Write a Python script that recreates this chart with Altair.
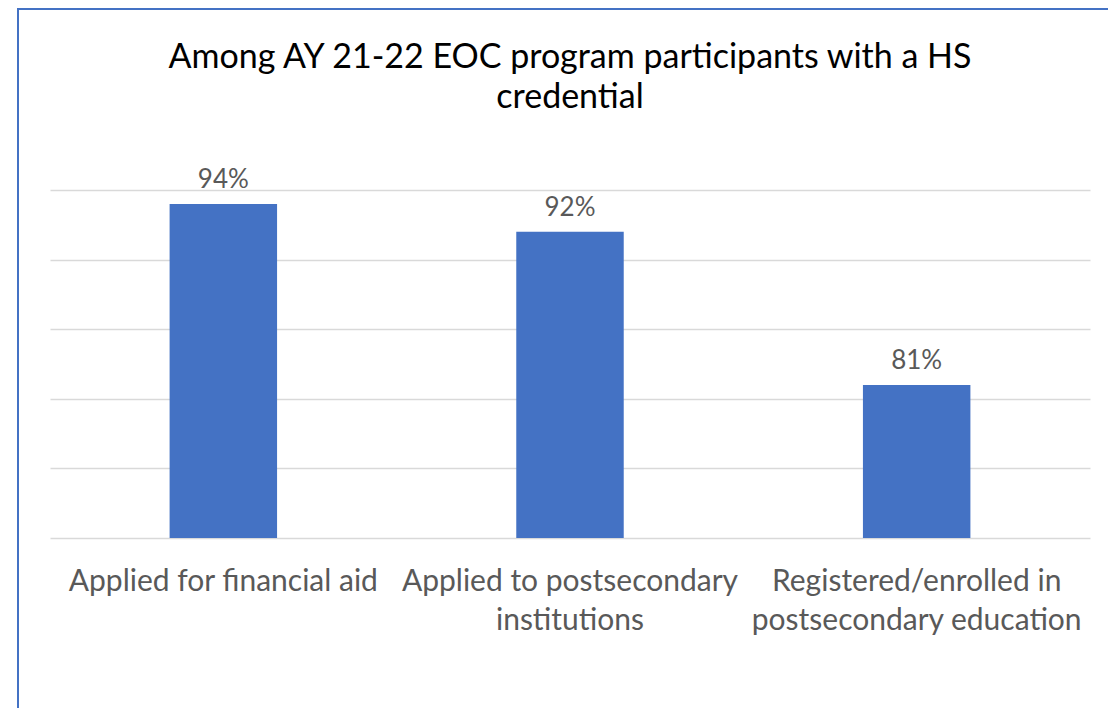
import altair as alt
import pandas as pd

categories = [
    "Applied for financial aid",
    "Applied to postsecondary institutions",
    "Registered/enrolled in postsecondary education",
]
values = [94, 92, 81]
value_labels = ["94%", "92%", "81%"]
label_lines = [
    ["Applied for financial aid"],
    ["Applied to postsecondary", "institutions"],
    ["Registered/enrolled in", "postsecondary education"],
]
title_lines = ["Among AY 21-22 EOC program participants with a HS", "credential"]
y_ticks = [70, 75, 80, 85, 90, 95]

FONT = "Lato"
BLUE = "#4472C4"
GREY_TEXT = "#595959"

df = pd.DataFrame({"category": categories, "value": values, "label": value_labels})

# multi-line axis labels
expr = "[]"
for cat, lines in reversed(list(zip(categories, label_lines))):
    arr = "[" + ",".join("'" + l + "'" for l in lines) + "]"
    expr = f"datum.label == '{cat}' ? {arr} : ({expr})"

x_enc = alt.X(
    "category:N",
    sort=categories,
    scale=alt.Scale(paddingInner=0.69, paddingOuter=0.345),
    axis=alt.Axis(
        title=None, labelAngle=0, ticks=False, domain=False,
        labelFont=FONT, labelFontSize=30, labelColor=GREY_TEXT,
        labelPadding=28, labelLineHeight=39, labelLimit=0,
        labelExpr=expr, grid=False,
    ),
)
y_enc = alt.Y(
    "value:Q",
    scale=alt.Scale(domain=[y_ticks[0], y_ticks[-1]], nice=False, zero=False),
    axis=alt.Axis(
        title=None, labels=False, ticks=False, domain=False, grid=True,
        values=y_ticks, gridColor="#D9D9D9", gridWidth=1.5,
    ),
)

base = alt.Chart(df)
bars = base.mark_bar(color=BLUE).encode(x=x_enc, y=y_enc, y2=alt.datum(y_ticks[0]))
texts = base.mark_text(
    dy=-24, baseline="middle", font=FONT, fontSize=26, color=GREY_TEXT
).encode(x=alt.X("category:N", sort=categories), y="value:Q", text="label:N")

frame_data = pd.DataFrame({"k": [0]})
left_edge = alt.Chart(frame_data).mark_rule(color=BLUE, strokeWidth=2).encode(
    x=alt.value(-32), y=alt.value(-181), y2=alt.value(520)
)
top_edge = alt.Chart(frame_data).mark_rule(color=BLUE, strokeWidth=2).encode(
    x=alt.value(-33), x2=alt.value(1060), y=alt.value(-181)
)

chart = alt.layer(bars, texts, left_edge, top_edge).properties(
    width=1040,
    height=348,
    autosize=alt.AutoSizeParams(type="none"),
    padding={"left": 42, "top": 182, "right": 18, "bottom": 170},
    title=alt.TitleParams(
        title_lines, font=FONT, fontSize=34, fontWeight="normal",
        color="#000000", anchor="middle", lineHeight=40, offset=0, dy=107,
    ),
).configure(background="white").configure_view(stroke=None)

chart.save("out.html", embed_options={"renderer": "svg", "actions": False})
